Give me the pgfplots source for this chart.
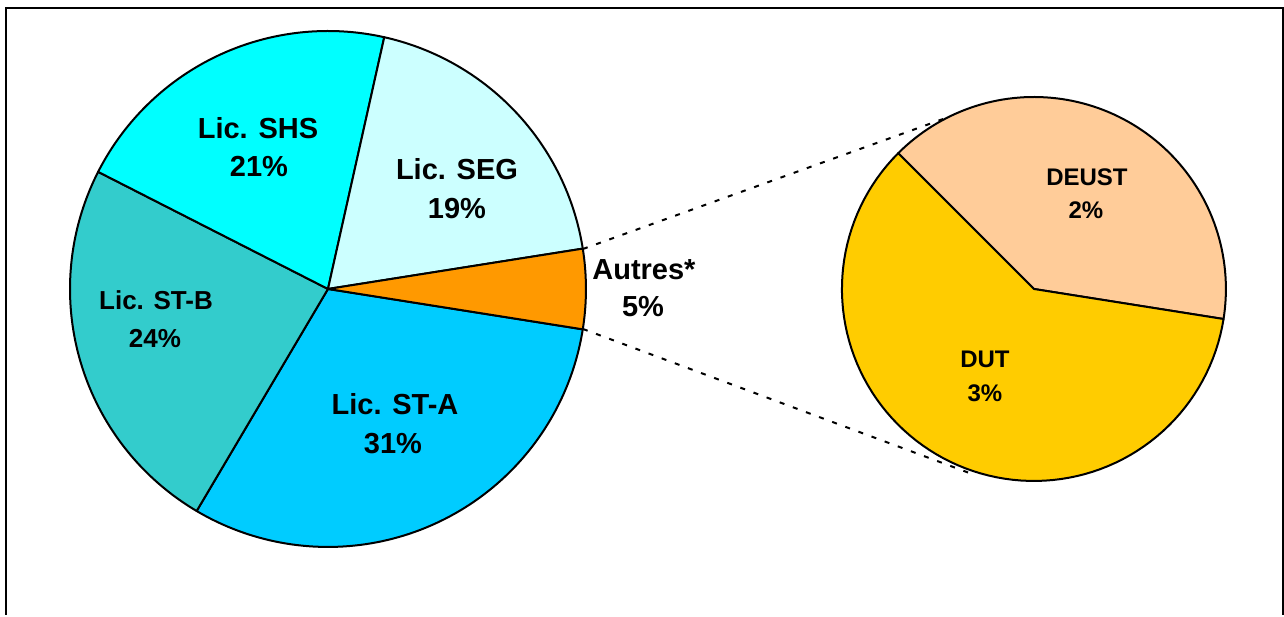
\documentclass[border=0pt]{standalone}
\usepackage{pgfplots}
\pgfplotsset{compat=1.18}
\usepackage{fontspec}
\setmainfont{Liberation Sans}
\definecolor{cSTA}{HTML}{00CCFF}
\definecolor{cSTB}{HTML}{33CCCC}
\definecolor{cSHS}{HTML}{00FFFF}
\definecolor{cSEG}{HTML}{CCFFFF}
\definecolor{cAUT}{HTML}{FF9900}
\definecolor{cDEU}{HTML}{FFCC99}
\definecolor{cDUT}{HTML}{FFCC00}
% pie slice: center x, center y, radius, start angle, end angle, colour
\newcommand{\pieslice}[6]{%
  \addplot[fill=#6, draw=black, line width=2bp, line join=round, domain=#4:#5, samples=90, variable=\t]
    ({#1+#3*cos(t)},{#2+#3*sin(t)}) -- (axis cs:#1,#2) -- cycle;}
\newcommand{\lab}[4]{%
  \node[anchor=base, inner sep=0pt, font=\fontsize{#4}{#4}\selectfont\bfseries] at (axis cs:#1,#2) {#3};}
\begin{document}
\begin{tikzpicture}
\begin{axis}[
  width=1284bp, height=615bp, scale only axis,
  xmin=0, xmax=1284, ymin=0, ymax=615,
  hide axis, clip=false]
\path (axis cs:0,0) rectangle (axis cs:1284,615);
% frame
\addplot[line width=2.2bp, black, mark=none] coordinates {(6,0) (6,607) (1283,607) (1283,0)};
% main pie: shares 31, 24, 21, 19, 5 (%), start at -9 deg, 3.6 deg per %
\pieslice{328}{326}{258}{239.4}{351}{cSTA}
\pieslice{328}{326}{258}{153}{239.4}{cSTB}
\pieslice{328}{326}{258}{77.4}{153}{cSHS}
\pieslice{328}{326}{258}{9}{77.4}{cSEG}
\pieslice{328}{326}{258}{-9}{9}{cAUT}
% second pie: DEUST 2 %, DUT 3 % of total (40 / 60 of "Autres")
\pieslice{1034}{326}{192}{-9}{135}{cDEU}
\pieslice{1034}{326}{192}{135}{351}{cDUT}
% connectors
\addplot[black, line width=2bp, dash pattern=on 5bp off 9bp, mark=none] coordinates {(583,366) (946,497)};
\addplot[black, line width=2bp, dash pattern=on 5bp off 9bp, mark=none] coordinates {(583,286) (972,141)};
% labels (baselines)
\lab{258}{476}{Lic. SHS}{29bp}
\lab{259}{438}{21\%}{29bp}
\lab{457}{435}{Lic. SEG}{29bp}
\lab{457}{396}{19\%}{29bp}
\lab{156}{305}{Lic. ST-B}{26bp}
\lab{155}{267}{24\%}{26bp}
\lab{395}{200}{Lic. ST-A}{29bp}
\lab{393}{161}{31\%}{29bp}
\lab{644}{335}{Autres*}{29bp}
\lab{643}{298}{5\%}{29bp}
\lab{1087}{429}{DEUST}{24bp}
\lab{1086}{396}{2\%}{24bp}
\lab{985}{247}{DUT}{24bp}
\lab{985}{213}{3\%}{24bp}
\end{axis}
\end{tikzpicture}
\end{document}
